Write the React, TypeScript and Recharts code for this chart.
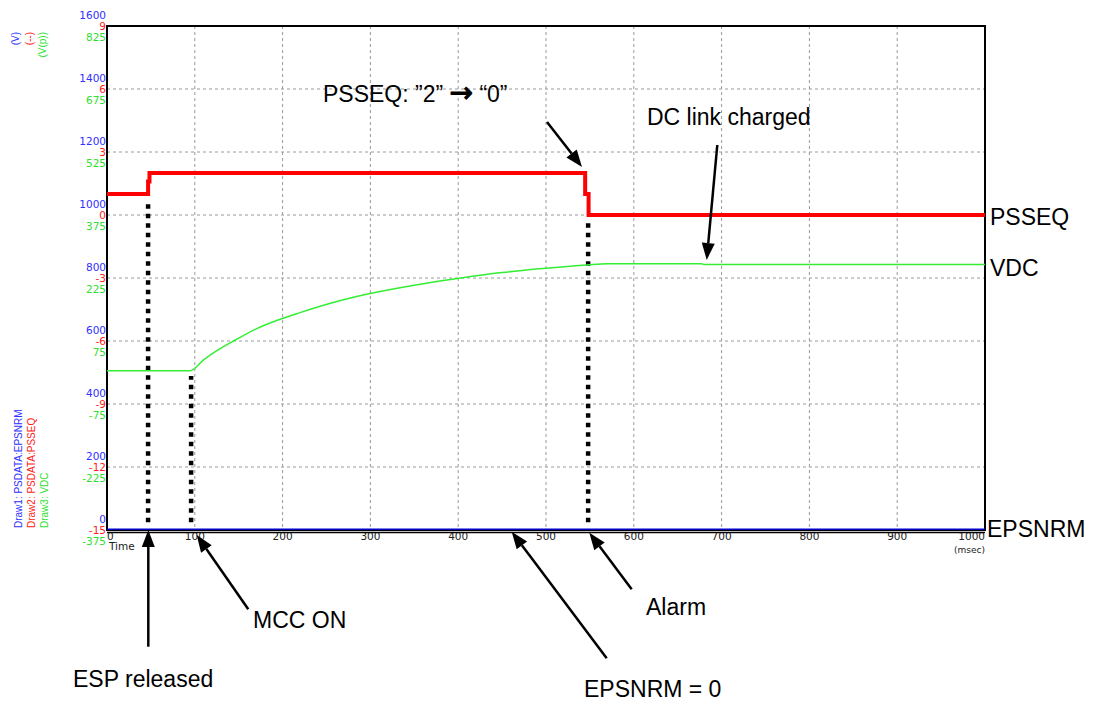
import React from "react";
import {
  ComposedChart,
  Line,
  XAxis,
  YAxis,
  CartesianGrid,
  ReferenceLine,
  ReferenceArea,
} from "recharts";

// axis ticks (three stacked scales share the same gridlines)
const timeTicks = [0, 100, 200, 300, 400, 500, 600, 700, 800, 900, 1000];
const voltTicks = [0, 200, 400, 600, 800, 1000, 1200, 1400, 1600];
const seqTicks = [-15, -12, -9, -6, -3, 0, 3, 6, 9];
const vpTicks = [-375, -225, -75, 75, 225, 375, 525, 675, 825];

// Draw1: EPSNRM (V)
const epsnrmTime = [0, 1000];
const epsnrmValue = [0, 0];

// Draw2: PSSEQ (--)
const psseqTime = [0, 46.8, 46.8, 48.4, 48.4, 544.6, 544.6, 548.5, 548.5, 1000];
const psseqValue = [1, 1, 1.6, 1.6, 2, 2, 1, 1, 0, 0];

// Draw3: VDC (V(p))
const vdcTime = [0, 94.6, 110, 125, 146.7, 170, 199, 219, 256.6, 299.5, 350, 399.5, 450, 492.6, 546, 570, 677, 680, 1000];
const vdcValue = [4, 4, 30, 52, 78, 104, 128, 142, 166, 188, 208, 224, 238, 247, 256, 259, 259, 257, 257];

// event markers (msec) and how far up the dotted line goes (V scale)
const markerTime = [46.8, 95.8, 548];
const markerTop = [1050, 489, 984];

const BLUE = "#3030ff";
const RED = "#ff2020";
const GREEN = "#30e030";
const SMALL = "'DejaVu Sans', sans-serif";
const BIG = "'Liberation Sans', Arial, sans-serif";

const toPoints = (t: number[], v: number[]) => t.map((x, i) => ({ t: x, v: v[i] }));

const epsnrmData = toPoints(epsnrmTime, epsnrmValue);
const psseqData = toPoints(psseqTime, psseqValue);
const vdcData = toPoints(vdcTime, vdcValue);

function StackedYTick(props: any) {
  const { x, y, payload } = props;
  const i = voltTicks.indexOf(payload.value);
  return (
    <g fontFamily={SMALL} fontSize={10.5} textAnchor="end">
      <text x={x} y={y - 7} fill={BLUE}>{voltTicks[i]}</text>
      <text x={x} y={y + 3.5} fill={RED}>{seqTicks[i]}</text>
      <text x={x} y={y + 14.5} fill={GREEN}>{vpTicks[i]}</text>
    </g>
  );
}

function TimeTick(props: any) {
  const { x, y, payload } = props;
  const v = payload.value;
  const anchor = v === 0 ? "start" : v === 1000 ? "end" : "middle";
  return (
    <text x={x} y={y + 10} textAnchor={anchor} fontFamily={SMALL} fontSize={10.5} fill="#222">
      {v}
    </text>
  );
}

function Arrow({ from, to }: { from: number[]; to: number[] }) {
  const [x1, y1] = from;
  const [x2, y2] = to;
  const len = Math.hypot(x2 - x1, y2 - y1);
  const ux = (x2 - x1) / len;
  const uy = (y2 - y1) / len;
  const head = 17;
  const half = 6.5;
  const bx = x2 - ux * head;
  const by = y2 - uy * head;
  return (
    <g>
      <line x1={x1} y1={y1} x2={bx} y2={by} stroke="#000" strokeWidth={2.5} />
      <polygon
        points={`${x2},${y2} ${bx - uy * half},${by + ux * half} ${bx + uy * half},${by - ux * half}`}
        fill="#000"
      />
    </g>
  );
}

const arrows = [
  { from: [140.3, 638.7], to: [140.3, 522] },
  { from: [240.3, 601.3], to: [188.7, 527] },
  { from: [598.7, 650.3], to: [503.7, 523.7] },
  { from: [623.7, 581.3], to: [581.3, 524.7] },
  { from: [539, 114], to: [574, 159] },
  { from: [709.3, 137], to: [698.7, 252] },
];

const notes = [
  { text: "DC link charged", x: 639, y: 117 },
  { text: "ESP released", x: 65, y: 679 },
  { text: "MCC ON", x: 245, y: 620 },
  { text: "Alarm", x: 638, y: 607 },
  { text: "EPSNRM = 0", x: 576, y: 689 },
  { text: "PSSEQ", x: 982, y: 217 },
  { text: "VDC", x: 982, y: 268 },
  { text: "EPSNRM", x: 979, y: 529 },
];

export default function App() {
  return (
    <div style={{ position: "relative", width: 1088, height: 694 }}>
      <ComposedChart
        width={1088}
        height={694}
        margin={{ top: 18, right: 111, bottom: 142, left: 0 }}
      >
        <XAxis
          type="number"
          dataKey="t"
          domain={[0, 1000]}
          ticks={timeTicks}
          allowDataOverflow
          axisLine={false}
          tickLine={false}
          tickSize={0}
          tickMargin={0}
          height={30}
          tick={<TimeTick />}
          interval={0}
        />
        <YAxis
          type="number"
          domain={[0, 1600]}
          ticks={voltTicks}
          allowDataOverflow
          width={99}
          axisLine={false}
          tickLine={false}
          tickSize={0}
          tickMargin={1}
          tick={<StackedYTick />}
          interval={0}
        />
        <YAxis yAxisId="seq" type="number" domain={[-15, 9]} ticks={seqTicks} allowDataOverflow hide />
        <YAxis yAxisId="vp" type="number" domain={[-375, 825]} ticks={vpTicks} allowDataOverflow hide />
        <CartesianGrid stroke="#9a9a9a" strokeDasharray="3 3" />
        <ReferenceArea x1={0} x2={1000} y1={0} y2={1600} fill="none" stroke="#000" strokeWidth={2} />
        {markerTime.map((t, i) => (
          <ReferenceLine
            key={t}
            segment={[
              { x: t, y: 25 },
              { x: t, y: markerTop[i] },
            ]}
            stroke="#000"
            strokeWidth={4.5}
            strokeDasharray="4.5 5"
          />
        ))}
        <Line
          data={vdcData}
          dataKey="v"
          yAxisId="vp"
          type="monotone"
          stroke="#33ee33"
          strokeWidth={1.5}
          dot={false}
          isAnimationActive={false}
        />
        <Line
          data={psseqData}
          dataKey="v"
          yAxisId="seq"
          type="linear"
          stroke="#ff0000"
          strokeWidth={4}
          dot={false}
          isAnimationActive={false}
        />
        <Line
          data={epsnrmData}
          dataKey="v"
          type="linear"
          stroke="#0000cc"
          strokeWidth={3}
          dot={false}
          isAnimationActive={false}
        />
      </ComposedChart>
      <svg
        width={1088}
        height={694}
        style={{ position: "absolute", left: 0, top: 0, pointerEvents: "none" }}
      >
        <line x1={99} y1={524.5} x2={977} y2={524.5} stroke="#000" strokeWidth={1.5} />
        <g fontFamily={BIG} fontSize={10}>
          <text transform="translate(11,24) rotate(-90)" textAnchor="end" fill={BLUE}>(V)</text>
          <text transform="translate(25,24) rotate(-90)" textAnchor="end" fill={RED}>(--)</text>
          <text transform="translate(38,24) rotate(-90)" textAnchor="end" fill={GREEN}>(V(p))</text>
          <text transform="translate(13.5,520) rotate(-90)" fill={BLUE}>Draw1: PSDATA:EPSNRM</text>
          <text transform="translate(27,520) rotate(-90)" fill={RED}>Draw2: PSDATA:PSSEQ</text>
          <text transform="translate(40.3,520) rotate(-90)" fill={GREEN}>Draw3: VDC</text>
        </g>
        <text x={101} y={542} fontFamily={SMALL} fontSize={10.5} fill="#222">Time</text>
        <text x={977} y={545} fontFamily={SMALL} fontSize={9} fill="#222" textAnchor="end">(msec)</text>
        {arrows.map((a, i) => (
          <Arrow key={i} from={a.from} to={a.to} />
        ))}
        <g fontFamily={BIG} fontSize={23} fill="#000">
          <text x={315} y={94}>
            {"PSSEQ: \u201d2\u201d "}
            <tspan fontFamily={SMALL} fontSize={28} stroke="#000" strokeWidth={1}>{"\u2192"}</tspan>
            {" \u201c0\u201d"}
          </text>
          {notes.map((n) => (
            <text key={n.text} x={n.x} y={n.y}>{n.text}</text>
          ))}
        </g>
      </svg>
    </div>
  );
}
